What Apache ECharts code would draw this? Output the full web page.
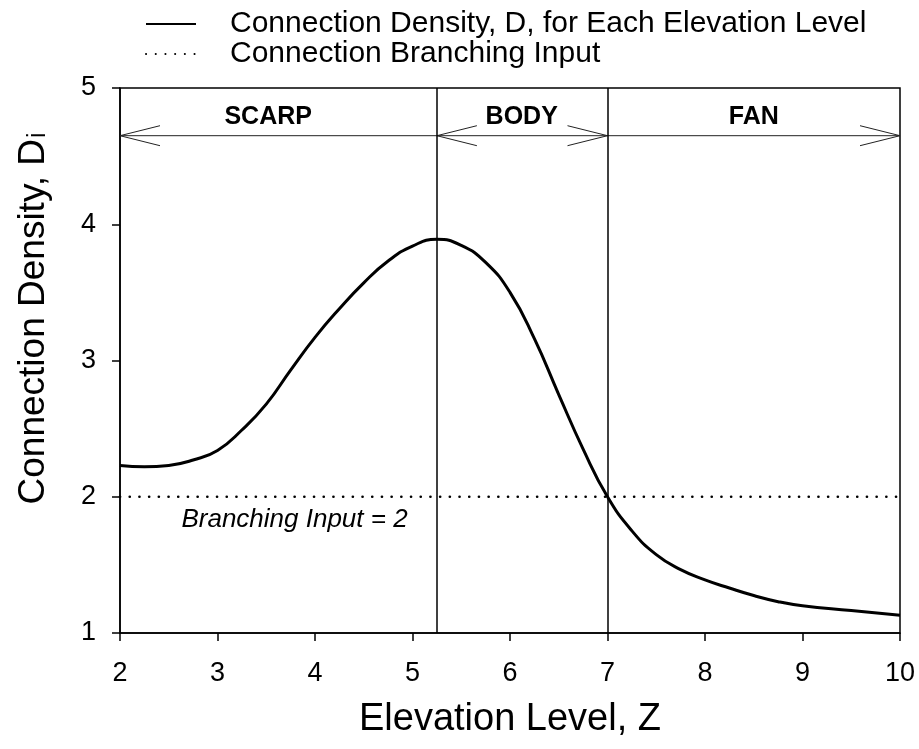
<!DOCTYPE html>
<html>
<head>
<meta charset="utf-8">
<script src="https://cdn.jsdelivr.net/npm/echarts@6/dist/echarts.min.js"></script>
<style>
  html, body { margin: 0; padding: 0; background: #fff; }
  #chart { width: 919px; height: 749px; }
</style>
</head>
<body>
<div id="chart"></div>
<script>
// elevation level Z and connection density D
const elevation = [2.0, 2.25, 2.5, 2.75, 3.0, 3.25, 3.5, 3.75, 4.0, 4.25, 4.5, 4.75, 5.0, 5.25,
  5.5, 5.75, 6.0, 6.25, 6.5, 6.75, 7.0, 7.25, 7.5, 7.75, 8.0, 8.25, 8.5, 8.75, 9.0, 9.5, 10.0]
const density = [2.23, 2.22, 2.23, 2.27, 2.34, 2.49, 2.68, 2.93, 3.17, 3.38, 3.57, 3.73, 3.84, 3.89,
  3.845, 3.72, 3.50, 3.16, 2.75, 2.35, 2.00, 1.75, 1.575, 1.465, 1.39, 1.33, 1.275, 1.23, 1.20, 1.165, 1.13]

// branching input (horizontal dotted line)
const branchX = [2, 10]
const branchY = [2, 2]

// zones along the top
const zoneNames = ['SCARP', 'BODY', 'FAN']
const zoneStart = [2, 5.25, 7]
const zoneEnd = [5.25, 7, 10]
const zoneLabelX = [3.52, 6.12, 8.5]
const zoneLeftHead = [1, 1, 0]
const zoneRightHead = [0, 1, 1]
const zoneArrowY = 4.65
const zoneLabelY = 4.79
const boundaries = [5.25, 7]

const FONT = 'Liberation Sans, Arial, sans-serif'

const myChart = echarts.init(document.getElementById('chart'))
myChart.setOption({
  animation: false,
  backgroundColor: '#fff',
  textStyle: { fontFamily: FONT, color: '#000' },
  legend: {
    orient: 'vertical',
    left: 140,
    top: 4,
    itemWidth: 50,
    itemHeight: 14,
    itemGap: 0,
    data: ['Connection Density, D, for Each Elevation Level', 'Connection Branching Input'],
    // hide the circle symbol that line legends get by default
    itemStyle: { color: 'rgba(0,0,0,0)', borderColor: 'rgba(0,0,0,0)', borderWidth: 0, opacity: 0 },
    textStyle: {
      fontFamily: FONT,
      fontSize: 30,
      lineHeight: 25,
      color: '#000',
      padding: [0, 0, 0, 29]
    }
  },
  grid: {
    left: 120,
    right: 19,
    top: 88,
    bottom: 116,
    show: true,
    borderColor: '#000',
    borderWidth: 1.5
  },
  xAxis: {
    type: 'value',
    min: 2,
    max: 10,
    interval: 1,
    name: 'Elevation Level, Z',
    nameLocation: 'middle',
    nameGap: 68,
    nameTextStyle: { fontSize: 38, color: '#000', fontFamily: FONT },
    axisLine: { lineStyle: { color: '#000', width: 1.5 } },
    axisTick: { length: 8, lineStyle: { color: '#000', width: 1.5 } },
    axisLabel: { fontSize: 27, color: '#000', margin: 27, fontFamily: FONT },
    splitLine: { show: false }
  },
  yAxis: {
    type: 'value',
    min: 1,
    max: 5,
    interval: 1,
    name: 'Connection Density, D{sub|i}',
    nameLocation: 'middle',
    nameGap: 68,
    nameTextStyle: {
      fontSize: 37,
      color: '#000',
      fontFamily: FONT,
      padding: [0, 0, 0, 84],
      rich: {
        sub: { fontSize: 25, color: '#000', fontFamily: FONT, padding: [10, 0, 0, 1] }
      }
    },
    axisLine: { lineStyle: { color: '#000', width: 1.5 } },
    axisTick: { length: 8, lineStyle: { color: '#000', width: 1.5 } },
    axisLabel: { fontSize: 27, color: '#000', margin: 24, fontFamily: FONT },
    splitLine: { show: false }
  },
  series: [
    {
      name: 'Connection Density, D, for Each Elevation Level',
      type: 'line',
      smooth: 0.5,
      symbol: 'none',
      data: elevation.map((z, i) => [z, density[i]]),
      lineStyle: { color: '#000', width: 3 },
      itemStyle: { color: '#000' },
      z: 5,
      markLine: {
        silent: true,
        symbol: 'none',
        label: { show: false },
        lineStyle: { color: '#000', width: 1.5, type: 'solid' },
        data: boundaries.map(b => ({ xAxis: b }))
      }
    },
    {
      name: 'Connection Branching Input',
      type: 'line',
      symbol: 'none',
      data: branchX.map((z, i) => [z, branchY[i]]),
      lineStyle: { color: '#000', width: 2.6, type: [0.1, 9.6], cap: 'round' },
      itemStyle: { color: '#000' },
      markPoint: {
        symbol: 'circle',
        symbolSize: 0,
        data: [{ coord: [2.63, 1.83], value: 'Branching Input = 2' }],
        label: {
          show: true,
          position: 'right',
          distance: 0,
          formatter: 'Branching Input = 2',
          fontStyle: 'italic',
          fontSize: 26,
          color: '#000',
          fontFamily: FONT
        }
      }
    },
    {
      name: 'zones',
      type: 'custom',
      silent: true,
      data: zoneNames.map((n, i) => [zoneStart[i], zoneEnd[i], zoneArrowY, zoneLabelX[i], zoneLabelY, zoneLeftHead[i], zoneRightHead[i]]),
      renderItem: (params, api) => {
        const p0 = api.coord([api.value(0), api.value(2)])
        const p1 = api.coord([api.value(1), api.value(2)])
        const pl = api.coord([api.value(3), api.value(4)])
        const style = { stroke: '#222', lineWidth: 1, fill: null }
        const children = [
          { type: 'line', shape: { x1: p0[0], y1: p0[1], x2: p1[0], y2: p1[1] }, style: style }
        ]
        if (api.value(5)) {
          children.push({
            type: 'polyline',
            shape: { points: [[p0[0] + 40, p0[1] - 10], [p0[0], p0[1]], [p0[0] + 40, p0[1] + 10]] },
            style: style
          })
        }
        if (api.value(6)) {
          children.push({
            type: 'polyline',
            shape: { points: [[p1[0] - 40, p1[1] - 10], [p1[0], p1[1]], [p1[0] - 40, p1[1] + 10]] },
            style: style
          })
        }
        children.push({
          type: 'text',
          x: pl[0],
          y: pl[1],
          style: {
            text: zoneNames[params.dataIndex],
            font: 'bold 25px ' + FONT,
            fill: '#000',
            align: 'center',
            verticalAlign: 'middle'
          }
        })
        return { type: 'group', children: children }
      }
    }
  ]
})
</script>
</body>
</html>
